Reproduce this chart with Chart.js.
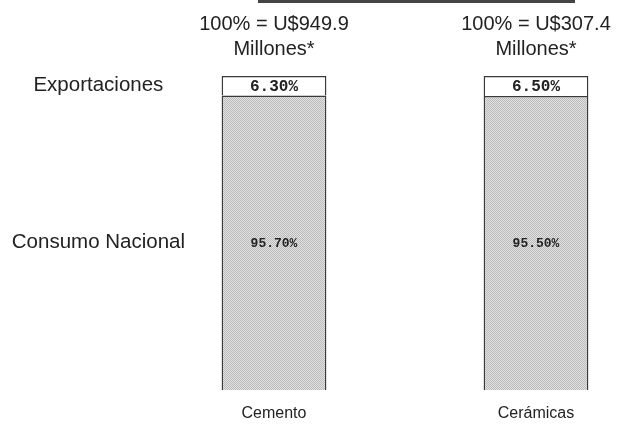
<!DOCTYPE html>
<html>
<head>
<meta charset="utf-8">
<script src="https://cdn.jsdelivr.net/npm/chart.js@4"></script>
<style>
  body { margin: 0; background: #fff; }
  .wrap { position: relative; width: 632px; height: 426px; }
  .rule { position: absolute; top: 0; left: 258px; width: 317px; height: 3px; background: #444; }
  canvas { position: absolute; top: 0; left: 0; }
</style>
</head>
<body>
<div class="wrap">
  <canvas id="myChart" width="632" height="426"></canvas>
  <div class="rule"></div>
</div>
<script>
// data
const categories = ['Cemento', 'Cerámicas'];
const seriesNames = ['Consumo Nacional', 'Exportaciones'];
const consumoNacional = [95.7, 95.5];
const exportaciones = [6.3, 6.5];
const totals = ['U$949.9', 'U$307.4'];

const textColor = '#222';

// dotted grey fill like the scanned original
function dotPattern() {
  let c = document.createElement('canvas');
  c.width = 2;
  c.height = 2;
  let g = c.getContext('2d');
  g.fillStyle = '#e2e2e2';
  g.fillRect(0, 0, 2, 2);
  g.fillStyle = '#bababa';
  g.fillRect(0, 0, 1, 1);
  g.fillRect(1, 1, 1, 1);
  return g.createPattern(c, 'repeat');
}

const headerPlugin = {
  id: 'headers',
  afterDatasetsDraw(chart) {
    let ctx = chart.ctx;
    let topMeta = chart.getDatasetMeta(1);
    ctx.save();
    ctx.fillStyle = textColor;
    ctx.textAlign = 'center';
    ctx.textBaseline = 'middle';
    ctx.font = '20px "Liberation Sans", Arial, sans-serif';
    topMeta.data.forEach((bar, i) => {
      ctx.fillText('100% = ' + totals[i], bar.x, bar.y - 52);
      ctx.fillText('Millones*', bar.x, bar.y - 27);
    });

    // value labels inside each segment
    chart.data.datasets.forEach((ds, d) => {
      let meta = chart.getDatasetMeta(d);
      ctx.font = d === 1
        ? 'bold 16px "Liberation Mono", monospace'
        : 'bold 13px "Liberation Mono", monospace';
      meta.data.forEach((bar, i) => {
        ctx.fillText(ds.data[i].toFixed(2) + '%', bar.x, (bar.y + bar.base) / 2 + 1);
      });
    });
    ctx.restore();
  }
};

const fill = dotPattern();

const data = {
  labels: categories,
  datasets: [{
    label: seriesNames[0],
    data: consumoNacional,
    backgroundColor: fill,
    borderColor: '#3a3a3a',
    borderWidth: 1.5,
    clip: false
  }, {
    label: seriesNames[1],
    data: exportaciones,
    backgroundColor: '#ffffff',
    borderColor: '#3a3a3a',
    borderWidth: 1.5,
    clip: false
  }]
};

const options = {
  responsive: false,
  animation: false,
  devicePixelRatio: 1,
  barPercentage: 0.5,
  categoryPercentage: 0.8,
  layout: {
    padding: { top: 76, right: 96, bottom: 6, left: 0 }
  },
  plugins: {
    legend: { display: false },
    tooltip: { enabled: false }
  },
  scales: {
    x: {
      stacked: true,
      offset: false,
      border: { display: false },
      grid: { display: false, drawTicks: false, tickLength: 0 },
      afterFit: (scale) => {
        scale.height = 30;
      },
      ticks: {
        padding: 14,
        maxRotation: 0,
        color: textColor,
        font: { family: '"Liberation Sans", Arial, sans-serif', size: 16 }
      }
    },
    y: {
      stacked: true,
      min: 0,
      max: 102,
      border: { display: false },
      grid: { display: false, drawTicks: false, tickLength: 0 },
      afterFit: (scale) => {
        scale.width = 274;
        // the big tick padding is only meant to push labels sideways
        scale.paddingTop = 0;
        scale.paddingBottom = 0;
      },
      afterBuildTicks: (scale) => {
        // one label at the middle of each segment of the first bar
        scale.ticks = [
          { value: consumoNacional[0] / 2 },
          { value: consumoNacional[0] + exportaciones[0] / 2 }
        ];
      },
      ticks: {
        padding: 89,
        crossAlign: 'center',
        color: textColor,
        font: { family: '"Liberation Sans", Arial, sans-serif', size: 20.5 },
        callback: (value, i) => seriesNames[i]
      }
    }
  }
};

let myChart = document.getElementById('myChart').getContext('2d');
let chart = new Chart(myChart, {
  type: 'bar',
  data: data,
  options: options,
  plugins: [headerPlugin]
});
</script>
</body>
</html>
